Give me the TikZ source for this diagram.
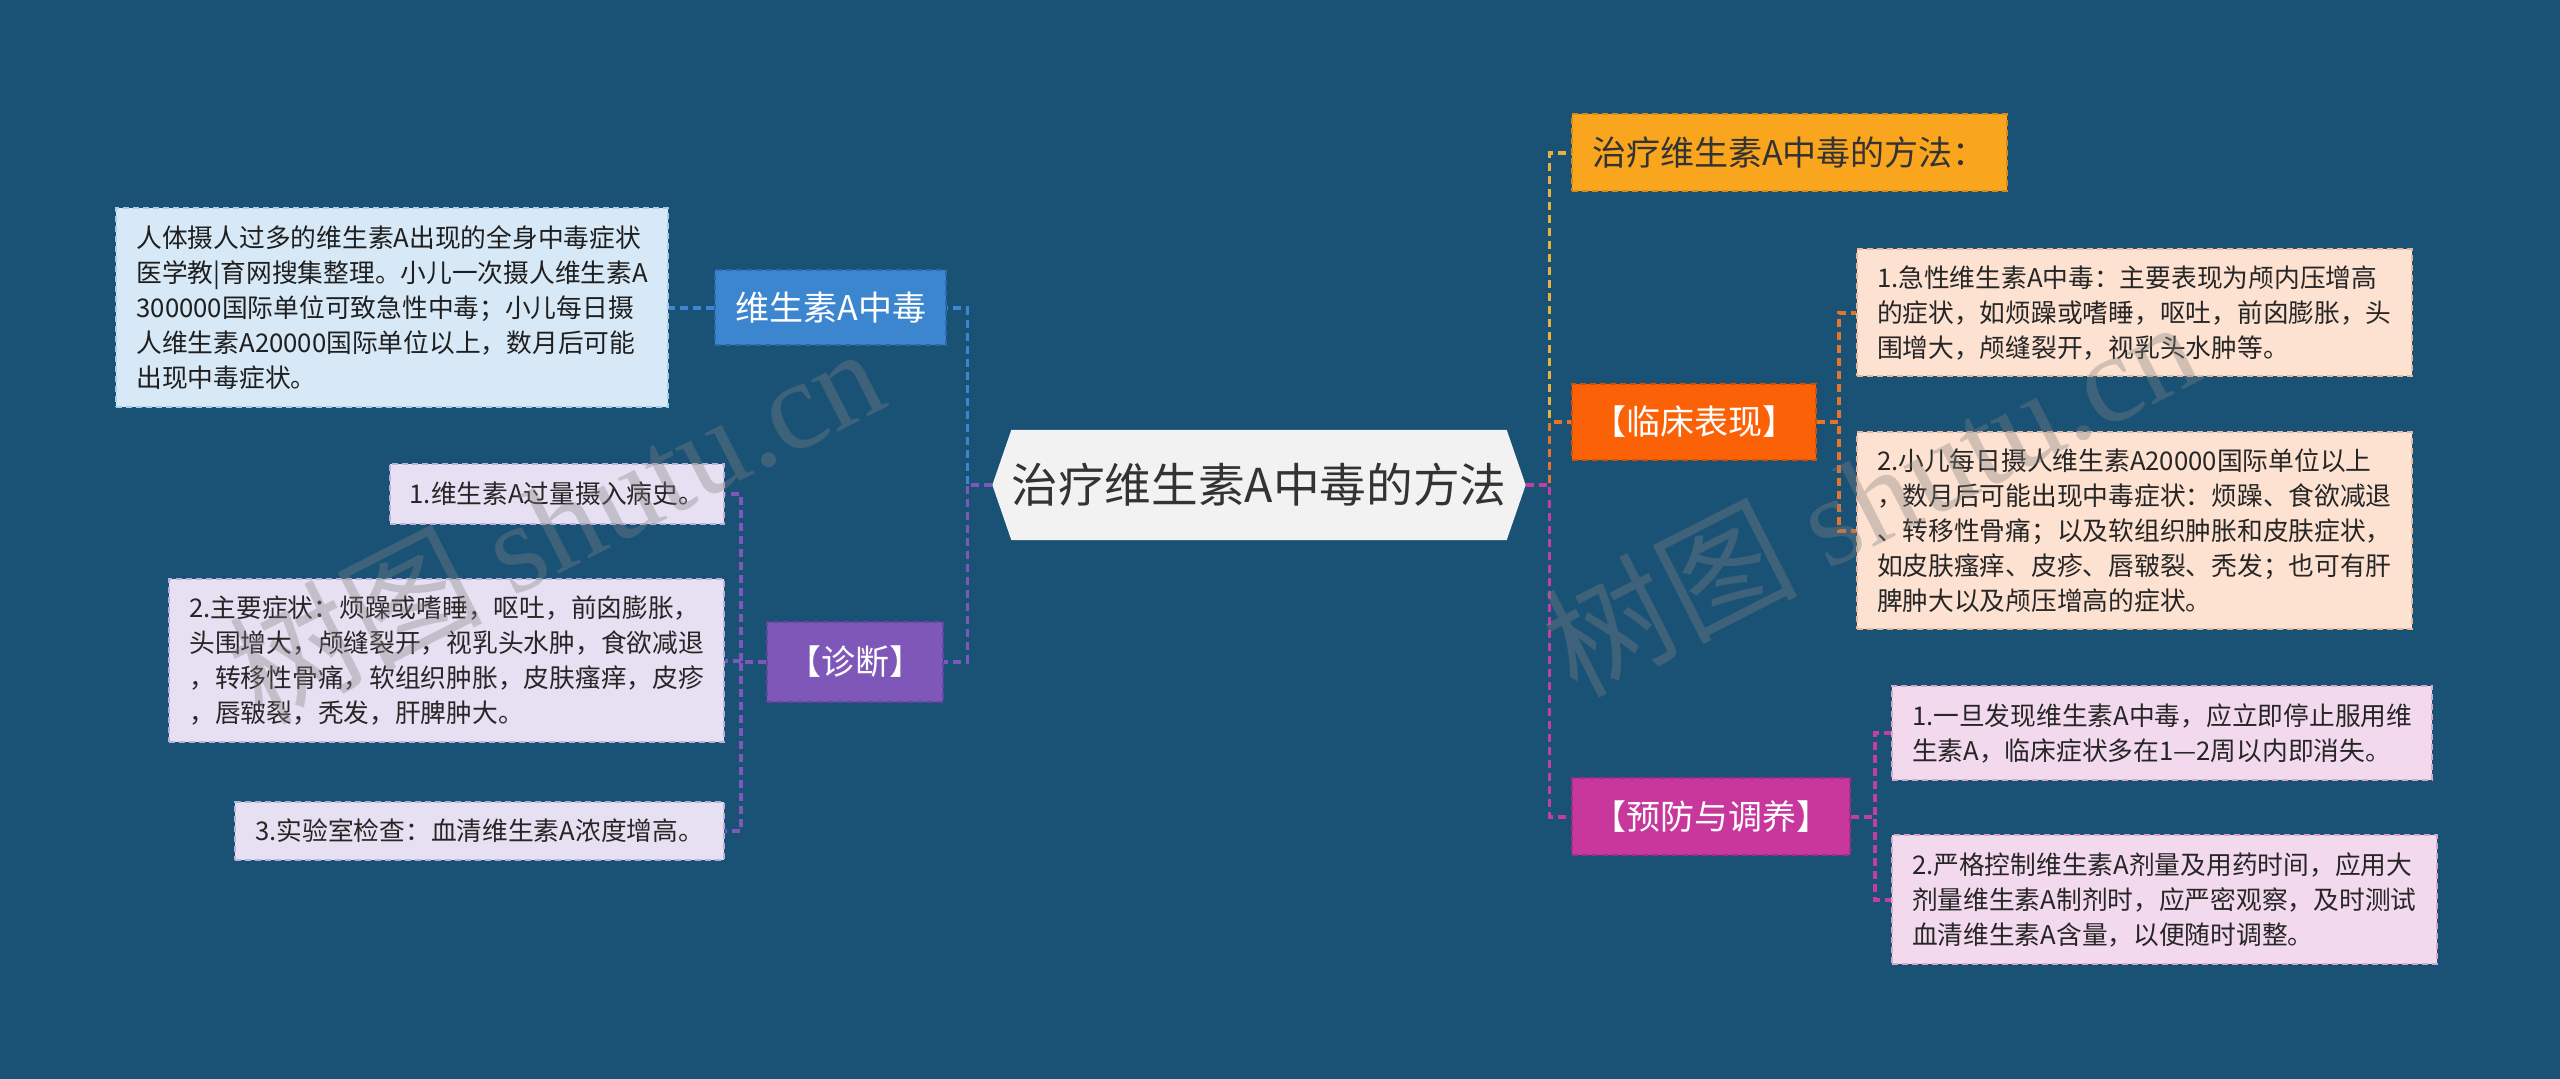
\documentclass[tikz,border=0pt]{standalone}
\usepackage{fontspec}
\setmainfont{Noto Sans CJK SC}
\newfontfamily\wmfont{Liberation Serif}
\pgfdeclarelayer{bgl}
\pgfdeclarelayer{edges}
\pgfdeclarelayer{fgl}
\pgfsetlayers{bgl,edges,main,fgl}
\definecolor{bgc}{HTML}{1A5276}
\definecolor{hexc}{HTML}{F2F2F2}
\definecolor{vitc}{HTML}{3B86CE}
\definecolor{vitd}{HTML}{2C69A8}
\definecolor{boxb}{HTML}{D7E8F6}
\definecolor{boxbd}{HTML}{A9CCEB}
\definecolor{diagc}{HTML}{7E57B8}
\definecolor{diagd}{HTML}{6644A0}
\definecolor{lav}{HTML}{E6E0F2}
\definecolor{lavd}{HTML}{B9B0E0}
\definecolor{treatc}{HTML}{F9A51E}
\definecolor{treatd}{HTML}{D98A10}
\definecolor{clinc}{HTML}{FB6107}
\definecolor{clind}{HTML}{D84E00}
\definecolor{peach}{HTML}{FDE1D1}
\definecolor{peachd}{HTML}{E8B89C}
\definecolor{prevc}{HTML}{C7379C}
\definecolor{prevd}{HTML}{A82A84}
\definecolor{pink}{HTML}{F3D9EE}
\definecolor{pinkd}{HTML}{D8A8CC}
\definecolor{lnyel}{HTML}{E8B33A}
\definecolor{lnora}{HTML}{E8732A}
\definecolor{lnmag}{HTML}{C23FA0}
\tikzset{
  basebox/.style={inner xsep=6pt, inner ysep=0pt, line width=0.6pt, dash pattern=on 1.8pt off 1.2pt},
  catbox/.style={basebox, font=\fontsize{10.2}{12}\selectfont, text=white},
  txtbox/.style={basebox, font=\fontsize{7.72}{10.5}\selectfont, align=left},
  conn/.style={line width=1pt, dash pattern=on 2.4pt off 1.5pt},
  wmark/.style={text=gray, opacity=0.35, font=\fontsize{38}{40}\selectfont, inner sep=0pt}
}
\begin{document}
\begin{tikzpicture}[x=0.3pt, y=-0.3pt]
\useasboundingbox (0,0) rectangle (2560,1079);
\begin{pgfonlayer}{bgl}
\fill[bgc] (0,0) rectangle (2560,1079);
\end{pgfonlayer}

% central node
\node[minimum width=159.6pt, minimum height=32.7pt, inner sep=0pt, text=black!80,
      font=\fontsize{14}{16}\selectfont] (c) at (1259,485) {治疗维生素A中毒的方法};
\begin{pgfonlayer}{bgl}
\fill[hexc] (c.west) -- ([xshift=5.7pt]c.north west) -- ([xshift=-5.7pt]c.north east)
  -- (c.east) -- ([xshift=-5.7pt]c.south east) -- ([xshift=5.7pt]c.south west) -- cycle;
\end{pgfonlayer}

% left side
\node[catbox, fill=vitc, draw=vitd, minimum height=22.5pt, anchor=east] (vit) at (947,308) {维生素A中毒};
\node[txtbox, fill=boxb, draw=boxbd, text=black!88, minimum height=59.7pt, anchor=east] (box1) at (669,308)
  {人体摄人过多的维生素A出现的全身中毒症状\\医学教|育网搜集整理。小儿一次摄人维生素A\\300000国际单位可致急性中毒；小儿每日摄\\人维生素A20000国际单位以上，数月后可能\\出现中毒症状。};
\node[catbox, fill=diagc, draw=diagd, minimum height=24pt, anchor=east] (diag) at (944,662) {【诊断】};
\node[txtbox, fill=lav, draw=lavd, text=black!85, minimum height=18pt, anchor=east] (d1) at (725,494)
  {1.维生素A过量摄入病史。};
\node[txtbox, fill=lav, draw=lavd, text=black!85, minimum height=48.9pt, anchor=east] (d2) at (725,661)
  {2.主要症状：烦躁或嗜睡，呕吐，前囟膨胀，\\头围增大，颅缝裂开，视乳头水肿，食欲减退\\，转移性骨痛，软组织肿胀，皮肤瘙痒，皮疹\\，唇皲裂，秃发，肝脾肿大。};
\node[txtbox, fill=lav, draw=lavd, text=black!85, minimum height=17.4pt, anchor=east] (d3) at (725,831)
  {3.实验室检查：血清维生素A浓度增高。};

% right side
\node[catbox, fill=treatc, draw=treatd, text=black!80, minimum height=23.1pt, anchor=west] (treat) at (1571,153) {治疗维生素A中毒的方法：};
\node[catbox, fill=clinc, draw=clind, minimum height=22.8pt, anchor=west] (clin) at (1571,422) {【临床表现】};
\node[catbox, fill=prevc, draw=prevd, minimum height=23.1pt, anchor=west] (prev) at (1571,817) {【预防与调养】};
\node[txtbox, fill=peach, draw=peachd, text=black!85, minimum height=38.1pt, anchor=west] (c1) at (1856,313)
  {1.急性维生素A中毒：主要表现为颅内压增高\\的症状，如烦躁或嗜睡，呕吐，前囟膨胀，头\\围增大，颅缝裂开，视乳头水肿等。};
\node[txtbox, fill=peach, draw=peachd, text=black!85, minimum height=59.1pt, anchor=west] (c2) at (1856,531)
  {2.小儿每日摄人维生素A20000国际单位以上\\，数月后可能出现中毒症状：烦躁、食欲减退\\、转移性骨痛；以及软组织肿胀和皮肤症状，\\如皮肤瘙痒、皮疹、唇皲裂、秃发；也可有肝\\脾肿大以及颅压增高的症状。};
\node[txtbox, fill=pink, draw=pinkd, text=black!85, minimum height=28.2pt, anchor=west] (p1) at (1891,733)
  {1.一旦发现维生素A中毒，应立即停止服用维\\生素A，临床症状多在1—2周以内即消失。};
\node[txtbox, fill=pink, draw=pinkd, text=black!85, minimum height=38.7pt, anchor=west] (p2) at (1891,900)
  {2.严格控制维生素A剂量及用药时间，应用大\\剂量维生素A制剂时，应严密观察，及时测试\\血清维生素A含量，以便随时调整。};

% connectors
\begin{pgfonlayer}{edges}
\draw[conn, vitc] (c.west) -- ++(-25,0) |- (vit.east);
\draw[conn, diagc] (c.west) -- ++(-25,0) |- (diag.east);
\draw[conn, vitc] (vit.west) -- (box1.east);
\draw[conn, diagc] (diag.west) -- ++(-25,0) |- (d1.east);
\draw[conn, diagc] (diag.west) -- ++(-25,0) |- (d2.east);
\draw[conn, diagc] (diag.west) -- ++(-25,0) |- (d3.east);
\draw[conn, lnyel] (c.east) -- ++(24,0) |- (treat.west);
\draw[conn, lnora] (c.east) -- ++(24,0) |- (clin.west);
\draw[conn, lnmag] (c.east) -- ++(24,0) |- (prev.west);
\draw[conn, lnora] (clin.east) -- ++(22,0) |- (c1.west);
\draw[conn, lnora] (clin.east) -- ++(22,0) |- (c2.west);
\draw[conn, lnmag] (prev.east) -- ++(24,0) |- (p1.west);
\draw[conn, lnmag] (prev.east) -- ++(24,0) |- (p2.west);
\end{pgfonlayer}

% watermarks
\begin{pgfonlayer}{fgl}
\node[wmark, rotate=27] (wm1) at (555,522) {树图 {\wmfont shutu.cn}};
\node[wmark, rotate=27] (wm2) at (1870,495) {树图 {\wmfont shutu.cn}};
\end{pgfonlayer}
\end{tikzpicture}
\end{document}
